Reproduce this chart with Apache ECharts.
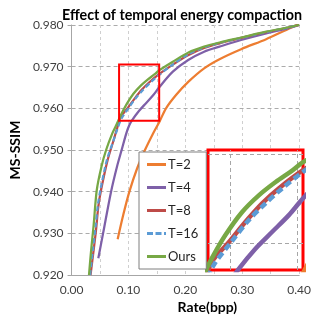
<!DOCTYPE html>
<html>
<head>
<meta charset="utf-8">
<script src="https://cdn.jsdelivr.net/npm/echarts@6/dist/echarts.min.js"></script>
<style>html,body{margin:0;padding:0;background:#fff;}#c{width:314px;height:322px;}</style>
</head>
<body>
<div id="c"></div>
<script>
// ---- data (rate in bpp, MS-SSIM) ----
const seriesNames = ['T=2', 'T=4', 'T=8', 'T=16', 'Ours'];
const dataT2 = [[0.081,0.9286],[0.091,0.9345],[0.1016,0.9400],[0.115,0.9455],[0.129,0.9500],[0.1426,0.9538],[0.1545,0.9568],[0.166,0.9600],[0.1836,0.9632],[0.2055,0.9664],[0.233,0.9696],[0.260,0.9718],[0.298,0.9742],[0.342,0.9766],[0.380,0.9790],[0.400,0.9802]];
const dataT4 = [[0.047,0.9240],[0.0554,0.9300],[0.0694,0.9400],[0.0798,0.9460],[0.088,0.9500],[0.0962,0.9540],[0.1016,0.9560],[0.1062,0.9571],[0.1187,0.9594],[0.1312,0.9613],[0.1437,0.9632],[0.1537,0.9650],[0.178,0.9688],[0.205,0.9716],[0.233,0.9736],[0.260,0.9748],[0.298,0.9764],[0.342,0.9780],[0.380,0.9792],[0.400,0.9800]];
const dataT8 = [[0.0333,0.9200],[0.0388,0.9260],[0.0430,0.9308],[0.0470,0.9364],[0.0520,0.9405],[0.0634,0.9476],[0.0740,0.9524],[0.0800,0.9552],[0.0863,0.9579],[0.0988,0.9601],[0.1112,0.9624],[0.1237,0.9645],[0.1362,0.9662],[0.1537,0.9682],[0.178,0.9705],[0.2055,0.9728],[0.233,0.9745],[0.260,0.9756],[0.298,0.9769],[0.342,0.9783],[0.380,0.9794],[0.400,0.9800]];
const dataT16 = [[0.0325,0.9200],[0.0375,0.9260],[0.0420,0.9315],[0.0465,0.9370],[0.0515,0.9410],[0.0625,0.9478],[0.0735,0.9522],[0.0805,0.9550],[0.0875,0.9575],[0.1000,0.9600],[0.1137,0.9626],[0.1262,0.9645],[0.1387,0.9662],[0.1537,0.9680],[0.178,0.9705],[0.2055,0.9730],[0.233,0.9746],[0.260,0.9757],[0.298,0.9769],[0.342,0.9783],[0.380,0.9794],[0.400,0.9800]];
const dataOurs = [[0.0306,0.9200],[0.0344,0.9260],[0.0388,0.9320],[0.0443,0.9404],[0.0525,0.9460],[0.0607,0.9500],[0.0716,0.9540],[0.0780,0.9558],[0.0863,0.9583],[0.0963,0.9609],[0.1087,0.9635],[0.1212,0.9654],[0.1337,0.9669],[0.1462,0.9682],[0.1537,0.9691],[0.178,0.9712],[0.2055,0.9734],[0.233,0.9748],[0.260,0.9758],[0.298,0.9770],[0.342,0.9784],[0.380,0.9794],[0.400,0.9800]];
const allData = [dataT2, dataT4, dataT8, dataT16, dataOurs];
// zoom window shown in the inset: [xmin, xmax, ymin, ymax]
const zoomWindow = [0.0835, 0.154, 0.957, 0.9705];
const insetGridX = [0.10, 0.15];
const insetGridY = [0.960, 0.970];
// ---- styles ----
const colors = ['#ED7D31', '#7E60A8', '#BE4B48', '#5B9BD5', '#77A845'];
const FONT = 'Lato';
const solidIcon = 'path://M0,0h19v3h-19z';
const dashIcon = 'path://M0,0h6v3h-6z M8.5,0h6v3h-6z M17,0h2v3h-2z';

const chart = echarts.init(document.getElementById('c'), null, {renderer: 'canvas'});

const mainSeries = allData.map((d, i) => ({
  name: seriesNames[i], type: 'line', data: d, xAxisIndex: 0, yAxisIndex: 0,
  showSymbol: false, symbol: 'none', smooth: 0.3, z: 3 + i,
  lineStyle: {color: colors[i], width: 2.25, type: i === 3 ? [5, 3] : 'solid'},
  itemStyle: {color: colors[i]},
  emphasis: {disabled: true}
}));
const insetSeries = allData.map((d, i) => ({
  name: seriesNames[i], type: 'line', data: d, xAxisIndex: 1, yAxisIndex: 1,
  showSymbol: false, symbol: 'none', smooth: 0.3, clip: true, z: 12 + i,
  lineStyle: {color: colors[i], width: 4.5, type: i === 3 ? [7, 4] : 'solid'},
  itemStyle: {color: colors[i]},
  emphasis: {disabled: true}
}));
// rectangle marking the zoom window on main chart
mainSeries[4].markArea = {
  silent: true, z: 8,
  itemStyle: {color: 'rgba(0,0,0,0)', borderColor: '#FF0000', borderWidth: 2},
  data: [[{coord: [zoomWindow[0], zoomWindow[3]]}, {coord: [zoomWindow[1], zoomWindow[2]]}]]
};
// inset gridlines carried by an empty helper series under the inset curves
const insetGridSeries = {
  name: 'insetGrid', type: 'line', data: [], xAxisIndex: 1, yAxisIndex: 1, z: 11,
  showSymbol: false, symbol: 'none',
  markLine: {
    silent: true, symbol: 'none', label: {show: false}, z: 11,
    lineStyle: {color: '#A6A6A6', type: [4, 3], width: 1},
    data: insetGridX.map(v => ({xAxis: v})).concat(insetGridY.map(v => ({yAxis: v})))
  }
};

chart.setOption({
  animation: false,
  backgroundColor: '#fff',
  textStyle: {fontFamily: FONT},
  title: {
    text: 'Effect of temporal energy compaction',
    left: 57, top: 3,
    textStyle: {fontFamily: FONT, fontSize: 14.3, fontWeight: 'bold', color: '#000'}
  },
  legend: {
    data: seriesNames.map((n, i) => ({name: n, icon: i === 3 ? dashIcon : solidIcon})),
    orient: 'vertical', left: 139, top: 152,
    padding: [6, 8, 6, 8], itemGap: 10, itemWidth: 19, itemHeight: 3,
    backgroundColor: '#fff', borderColor: '#7F7F7F', borderWidth: 1,
    textStyle: {fontFamily: FONT, fontSize: 13, color: '#262626', lineHeight: 13, padding: [0, 0, 0, -3]},
    selectedMode: false, z: 20
  },
  grid: [
    {left: 58, top: 25, right: 12, bottom: 47, containLabel: false},
    {left: 208, top: 150, width: 95, height: 120, show: true, backgroundColor: '#fff', borderColor: '#FF0000', borderWidth: 3, z: 10}
  ],
  xAxis: [
    {
      type: 'value', gridIndex: 0, min: 0, max: 0.4, interval: 0.05,
      name: 'Rate(bpp)', nameLocation: 'middle', nameGap: 14,
      nameTextStyle: {fontFamily: FONT, fontSize: 14, fontWeight: 'bold', color: '#000', padding: [0, 0, 0, 44]},
      axisLine: {show: true, lineStyle: {color: '#A6A6A6', width: 1}},
      axisTick: {show: false},
      axisLabel: {margin: 9, fontFamily: FONT, fontSize: 12, color: '#404040',
        formatter: v => (Math.round(v * 100) % 10 === 0 ? v.toFixed(2) : '')},
      splitLine: {show: true, lineStyle: {color: '#CFCFCF', type: [3, 3], width: 1}}
    },
    {
      type: 'value', gridIndex: 1, min: zoomWindow[0], max: zoomWindow[1],
      axisLine: {show: false}, axisTick: {show: false}, axisLabel: {show: false}, splitLine: {show: false}
    }
  ],
  yAxis: [
    {
      type: 'value', gridIndex: 0, min: 0.92, max: 0.98, interval: 0.01,
      name: 'MS-SSIM', nameLocation: 'middle', nameGap: 49, nameRotate: 90,
      nameTextStyle: {fontFamily: FONT, fontSize: 14, fontWeight: 'bold', color: '#000'},
      axisLine: {show: true, lineStyle: {color: '#A6A6A6', width: 1}},
      axisTick: {show: true, length: 4, lineStyle: {color: '#A6A6A6'}},
      axisLabel: {margin: 8, fontFamily: FONT, fontSize: 12, color: '#404040', formatter: v => v.toFixed(3)},
      splitLine: {show: true, lineStyle: {color: '#ABABAB', type: [4, 3], width: 1}}
    },
    {
      type: 'value', gridIndex: 1, min: zoomWindow[2], max: zoomWindow[3],
      axisLine: {show: false}, axisTick: {show: false}, axisLabel: {show: false}, splitLine: {show: false}
    }
  ],
  series: mainSeries.concat([insetGridSeries], insetSeries)
});
</script>
</body>
</html>
